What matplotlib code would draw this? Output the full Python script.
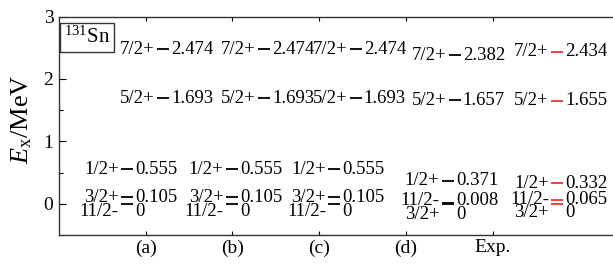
import matplotlib
matplotlib.use('Agg')
import matplotlib.pyplot as plt
from matplotlib.ticker import MultipleLocator

plt.rcParams['font.family'] = ['Liberation Serif', 'DejaVu Serif']
plt.rcParams['mathtext.fontset'] = 'custom'
plt.rcParams['mathtext.rm'] = 'Liberation Serif'
plt.rcParams['mathtext.it'] = 'Liberation Serif:italic'

# level schemes, lowest first
columns = ['(a)', '(b)', '(c)', '(d)', 'Exp.']
spins_a = ['11/2-', '3/2+', '1/2+', '5/2+', '7/2+']
energies_a = [0, 0.105, 0.555, 1.693, 2.474]
spins_b = ['11/2-', '3/2+', '1/2+', '5/2+', '7/2+']
energies_b = [0, 0.105, 0.555, 1.693, 2.474]
spins_c = ['11/2-', '3/2+', '1/2+', '5/2+', '7/2+']
energies_c = [0, 0.105, 0.555, 1.693, 2.474]
spins_d = ['3/2+', '11/2-', '1/2+', '5/2+', '7/2+']
energies_d = [0, 0.008, 0.371, 1.657, 2.382]
spins_exp = ['3/2+', '11/2-', '1/2+', '5/2+', '7/2+']
energies_exp = [0, 0.065, 0.332, 1.655, 2.434]

schemes = [(spins_a, energies_a), (spins_b, energies_b), (spins_c, energies_c),
           (spins_d, energies_d), (spins_exp, energies_exp)]

# horizontal placement of the level bars (layout only)
x_high = [1.198, 2.362, 3.42, 4.56, 5.74]   # levels above 1 MeV
x_low = [0.783, 1.99, 3.17, 4.48, 5.74]     # low-lying levels
colors = ['black', 'black', 'black', 'black', '#e8333a']
hw = 0.07
fs = 13.5

fig = plt.figure(figsize=(6.13, 2.65), dpi=100)
ax = fig.add_axes([0.0962, 0.113, 0.920, 0.8245])

for k, (spins, energies) in enumerate(schemes):
    n = len(energies)
    for i, (s, e) in enumerate(zip(spins, energies)):
        xc = x_high[k] if e > 1 else x_low[k]
        ax.plot([xc - hw, xc + hw], [e, e], color=colors[k], lw=1.3,
                solid_capstyle='butt')
        # close pairs: labels spread around the pair's midpoint
        ylab, dy = e, 0
        if i + 1 < n and energies[i + 1] - e < 0.2:
            ylab, dy = (e + energies[i + 1]) / 2, -7.7
        elif i > 0 and e - energies[i - 1] < 0.2:
            ylab, dy = (e + energies[i - 1]) / 2, 2.0
        elab = '0' if e == 0 else '%.3f' % e
        ax.annotate(s, xy=(xc - hw, ylab), xytext=(-1.5, dy), textcoords='offset points',
                    ha='right', va='center', fontsize=fs)
        ax.annotate(elab, xy=(xc + hw, ylab), xytext=(1.5, dy), textcoords='offset points',
                    ha='left', va='center', fontsize=fs)

ax.set_xlim(0, 6.5)
ax.set_ylim(-0.5, 3)
ax.set_xticks(range(1, 6))
ax.set_xticklabels(columns, fontsize=14)
ax.yaxis.set_major_locator(MultipleLocator(1))
ax.yaxis.set_minor_locator(MultipleLocator(0.5))
ax.tick_params(axis='y', which='major', direction='in', length=5, width=0.8,
               labelsize=14, pad=4)
ax.tick_params(axis='y', which='minor', direction='in', length=3, width=0.8)
ax.tick_params(axis='x', direction='in', length=3, width=0.8, top=True, pad=3)
for sp in ax.spines.values():
    sp.set_linewidth(1.0)
    sp.set_color('#333333')

ax.set_ylabel(r'$E_{\rm x}$/MeV', fontsize=19)
ax.yaxis.set_label_coords(-0.045, 0.53)

ax.text(0.0496, 0.905, r'$^{131}$Sn', transform=ax.transAxes, fontsize=15,
        ha='center', va='center',
        bbox=dict(boxstyle='square,pad=0.2', fc='white', ec='#333333', lw=1.0))

fig.savefig('out.png', dpi=100)
